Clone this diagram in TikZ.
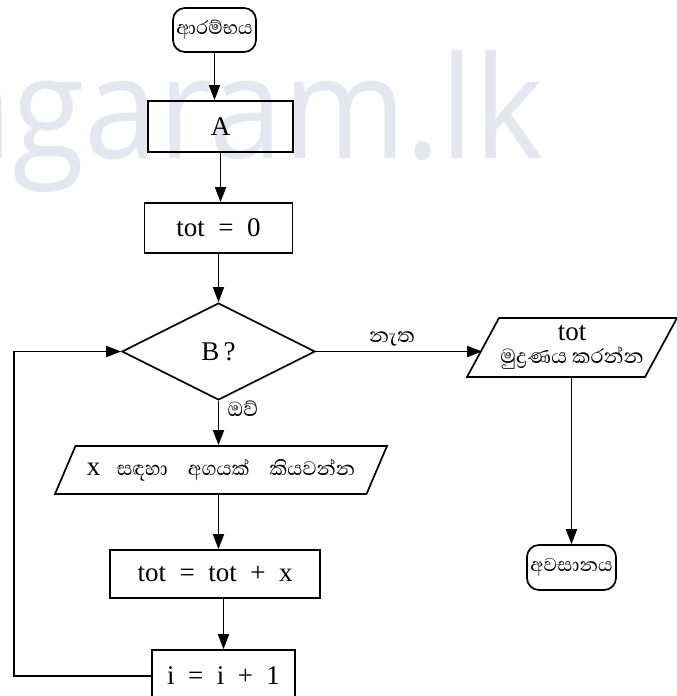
\documentclass[tikz,border=0pt]{standalone}
\usepackage{fontspec}
\setmainfont{Liberation Serif}
\newfontfamily\sinfont[Script=Sinhala]{Abhaya Libre}
\newfontfamily\wmfont{Open Sans}
\usetikzlibrary{shapes.geometric,arrows.meta}
\definecolor{wmgray}{HTML}{E4E8EE}
\newcommand{\gap}{\hspace{0.5em}}
\tikzset{
  base/.style={draw, line width=1.7pt, inner sep=2pt, font=\fontsize{27}{29}\selectfont},
  term/.style={base, rounded corners=12pt, font=\sinfont\fontsize{24}{26}\selectfont},
  proc/.style={base, rectangle},
  dec/.style={base, diamond, inner sep=0pt},
  io/.style={base, trapezium, trapezium stretches body=true, inner sep=0pt},
  lab/.style={font=\sinfont\fontsize{26}{28}\selectfont, inner sep=1pt},
  conn/.style={line width=1.7pt, -{Triangle[length=15pt,width=11pt]}}
}
\begin{document}
\begin{tikzpicture}[x=1pt,y=-1pt]
\useasboundingbox (0,0) rectangle (677,696);
\fill[white] (0,0) rectangle (677,696);
\node[anchor=base east, text=wmgray, font=\wmfont\fontsize{142}{142}\selectfont, inner sep=0pt, transform shape, xscale=0.93] (wm) at (544,158) {agaram.lk};

\node[term, minimum width=83pt, minimum height=44pt] (start) at (214.5,30) {ආරම්භය};
\node[proc, minimum width=145pt, minimum height=51pt] (A) at (220.5,126.5) {A};
\node[proc, minimum width=148pt, minimum height=50pt] (t0) at (218.5,228) {tot\gap=\gap0};
\node[dec, minimum width=193pt, minimum height=97pt] (dia) at (218.5,351.5) {B\,?};
\node[io, trapezium left angle=54, trapezium right angle=126, minimum width=210pt, minimum height=59pt, align=center, font=\fontsize{27}{24}\selectfont] (out) at (572,347.5) {tot\\[-1pt]{\sinfont\fontsize{26}{26}\selectfont මුද්‍රණය කරන්න}};
\node[term, minimum width=89pt, minimum height=45pt] (end) at (571.5,567.5) {අවසානය};
\node[io, trapezium left angle=47, trapezium right angle=133, minimum width=332pt, minimum height=48pt] (in) at (221,470) {x\hspace{0.6em}{\sinfont\fontsize{25}{27}\selectfont සඳහා\hspace{0.8em}අගයක්\hspace{0.8em}කියවන්න}};
\node[proc, minimum width=210pt, minimum height=48pt] (add) at (215,574) {tot\gap=\gap tot\gap+\gap x};
\node[proc, minimum width=143pt, minimum height=52pt] (inc) at (223.5,676) {i\gap=\gap i\gap+\gap1};

\coordinate (lp) at (14,676);

\draw[conn] (start.south) -- (start.south |- A.north);
\draw[conn] (A.south) -- (A.south |- t0.north);
\draw[conn] (t0.south) -- (dia.north);
\draw[conn] (dia.east) -- (dia.east -| out.west);
\node[lab] (no) at (392,339) {නැත};
\draw[conn] (dia.south) -- (dia.south |- in.north);
\node[lab] (yes) at (243,409) {ඔව්};
\draw[conn] (dia.south |- in.south) -- (dia.south |- add.north);
\draw[conn] (inc.north |- add.south) -- (inc.north);
\draw[conn] (end.north |- out.south) -- (end.north);
\draw[conn] (inc.west) -- (lp) |- (dia.west);
\end{tikzpicture}
\end{document}
